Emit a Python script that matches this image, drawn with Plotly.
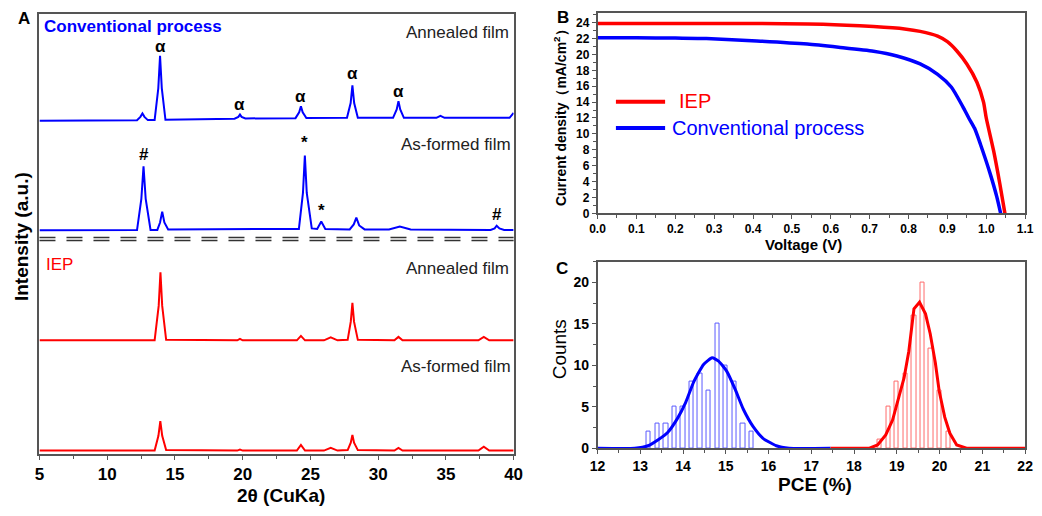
import plotly.graph_objects as go

W, H = 1042, 516
FONT = "Arial, Liberation Sans, sans-serif"
BLUE = "#0000ff"
RED = "#ff0000"
AXC = "#555555"

# ---------------- Panel A: XRD patterns (intensity in a.u.) ----------------
conv_ann_x = [5, 12.2, 12.45, 12.6, 12.75, 13.0, 13.5, 13.77, 13.9, 14.03, 14.3, 19.4, 19.68, 19.8,
              19.92, 20.2, 23.9, 24.17, 24.3, 24.43, 24.7, 27.7, 27.97, 28.1, 28.23, 28.5, 31.1,
              31.37, 31.5, 31.63, 31.9, 34.3, 34.6, 34.9, 39.7, 40]
conv_ann_y = [0, 0.5, 4, 7.5, 4, 0.7, 0.8, 33, 66, 33, 1, 2.2, 4, 6.3, 4, 2.4, 2.7, 8.7, 14.7, 8.7,
              2.8, 3, 18, 36, 18, 3, 3, 11.5, 20, 11.5, 3, 3, 5, 3, 3, 8]

conv_as_x = [5, 12.2, 12.52, 12.68, 12.84, 13.2, 13.7, 13.9, 14.06, 14.22, 14.5, 20, 24.15, 24.45,
             24.59, 24.73, 25.1, 25.5, 25.8, 26.1, 27.9, 28.2, 28.39, 28.6, 29.0, 30.8, 31.6, 32.4,
             38.3, 38.6, 38.75, 38.95, 39.3, 40]
conv_as_y = [0, 0.3, 32, 65, 32, 0.5, 0.5, 8, 19, 8, 1, 1, 1.5, 38, 76, 38, 2, 1.5, 9, 1.5, 1, 6,
             13, 5, 1, 0.8, 4, 0.8, 0.5, 2, 4.7, 2, 0.5, 0.5]

iep_ann_x = [5, 13.5, 13.8, 13.93, 14.06, 14.35, 19.6, 19.8, 20.0, 24.0, 24.3, 24.6, 26.0, 26.5,
             27.0, 27.75, 27.98, 28.1, 28.22, 28.5, 31.2, 31.5, 31.8, 37.4, 37.8, 38.2, 40]
iep_ann_y = [0, 0, 35, 69, 35, 0.5, 0, 1.5, 0, 0, 4.5, 0, 0, 3, 0, 0.5, 19, 38, 19, 0.5, 0, 3.5,
             0, 0, 3.5, 0, 0]

iep_as_x = [5, 13.5, 13.78, 13.92, 14.06, 14.35, 19.6, 19.8, 20.0, 24.0, 24.3, 24.6, 26.0, 26.5,
            27.0, 27.75, 27.98, 28.1, 28.22, 28.5, 31.2, 31.5, 31.8, 37.4, 37.8, 38.2, 40]
iep_as_y = [0, 0, 15, 30, 15, 0.5, 0, 1, 0, 0, 5.7, 0, 0, 2.7, 0, 0.5, 8, 16, 8, 0.5, 0, 2.7, 0,
            0, 4, 0, 0]

# ---------------- Panel B: J-V curves ----------------
jv_iep_v = [0, 0.37, 0.58, 0.71, 0.79, 0.83, 0.875, 0.90, 0.925, 0.95, 0.976, 0.993, 1.0, 1.019,
            1.035, 1.048]
jv_iep_j = [23.9, 23.9, 23.8, 23.5, 23.2, 22.9, 22.3, 21.6, 20.4, 18.8, 16.5, 14.0, 12.0, 7.85,
            3.7, 0]
jv_conv_v = [0, 0.1, 0.2, 0.28, 0.41, 0.54, 0.62, 0.71, 0.77, 0.83, 0.875, 0.91, 0.94, 0.955,
             0.97, 0.985, 1.01, 1.027, 1.037]
jv_conv_j = [22.1, 22.1, 22.05, 22.0, 21.7, 21.3, 20.9, 20.4, 19.8, 18.8, 17.5, 15.9, 13.4, 12.0,
             10.7, 8.7, 5.0, 2.1, 0]

# ---------------- Panel C: PCE histograms ----------------
conv_bins = [13.2, 13.4, 13.6, 13.8, 14.0, 14.2, 14.4, 14.6, 14.8, 15.0, 15.2, 15.4, 15.6]
conv_counts = [2, 3, 3, 5, 5, 8, 9, 7, 15, 10, 8, 3, 2]
iep_bins = [18.6, 18.8, 19.0, 19.2, 19.4, 19.6, 19.8, 20.0, 20.2]
iep_counts = [1, 5, 8, 9, 16, 20, 12, 7, 2]

conv_fit_x = [12, 12.87, 13.18, 13.41, 13.64, 13.87, 14.06, 14.25, 14.48, 14.68, 14.83, 15.02,
              15.22, 15.41, 15.64, 15.87, 16.18, 16.48, 17.45]
conv_fit_y = [0, 0, 0.3, 1.0, 1.9, 3.6, 5.5, 8.0, 10.1, 10.9, 10.5, 9.3, 7.1, 4.7, 2.6, 1.2, 0.3,
              0, 0]
iep_fit_x = [17.45, 18.36, 18.55, 18.74, 18.90, 19.05, 19.17, 19.28, 19.40, 19.53, 19.67, 19.78,
             19.90, 19.99, 20.12, 20.24, 20.40, 20.63, 22]
iep_fit_y = [0, 0, 0.4, 1.6, 3.4, 6.1, 8.5, 11.7, 16.8, 17.6, 16.2, 13.8, 10.3, 6.9, 3.75, 1.8,
             0.4, 0, 0]


def px(x):
    return x / W


def py(y):
    return 1 - y / H


fig = go.Figure()

# Panel A traces with vertical offsets (stacking)
A_BOTTOM = 461.5
stack = [
    (conv_ann_x, conv_ann_y, A_BOTTOM - 122.7, BLUE),
    (conv_as_x, conv_as_y, A_BOTTOM - 234.0, BLUE),
    (iep_ann_x, iep_ann_y, A_BOTTOM - 345.7, RED),
    (iep_as_x, iep_as_y, A_BOTTOM - 457.7, RED),
]
for xs, ys, off, col in stack:
    fig.add_trace(go.Scatter(x=xs, y=[v + off for v in ys], mode="lines",
                             line=dict(color=col, width=2), xaxis="x", yaxis="y",
                             showlegend=False, hoverinfo="skip"))

# Panel B traces
fig.add_trace(go.Scatter(x=jv_iep_v, y=jv_iep_j, mode="lines",
                         line=dict(color=RED, width=3.5, shape="spline", smoothing=0.6),
                         xaxis="x2", yaxis="y2", showlegend=False))
fig.add_trace(go.Scatter(x=jv_conv_v, y=jv_conv_j, mode="lines",
                         line=dict(color=BLUE, width=3.5, shape="spline", smoothing=0.6),
                         xaxis="x2", yaxis="y2", showlegend=False))

# Panel C traces
fig.add_trace(go.Bar(x=conv_bins, y=conv_counts, width=0.1, xaxis="x3", yaxis="y3",
                     marker=dict(color="rgba(255,255,255,0)", line=dict(color="#5a5aff", width=1)),
                     showlegend=False))
fig.add_trace(go.Bar(x=iep_bins, y=iep_counts, width=0.1, xaxis="x3", yaxis="y3",
                     marker=dict(color="rgba(255,255,255,0)", line=dict(color="#ff6a6a", width=1)),
                     showlegend=False))
fig.add_trace(go.Scatter(x=conv_fit_x, y=conv_fit_y, mode="lines",
                         line=dict(color=BLUE, width=3, shape="spline", smoothing=0.5),
                         xaxis="x3", yaxis="y3", showlegend=False))
fig.add_trace(go.Scatter(x=iep_fit_x, y=iep_fit_y, mode="lines",
                         line=dict(color=RED, width=3),
                         xaxis="x3", yaxis="y3", showlegend=False))

axis_common = dict(showline=True, mirror=True, linecolor=AXC, linewidth=1.5, showgrid=False,
                   zeroline=False, ticks="outside", tickcolor=AXC, ticklen=4, tickwidth=1.2)

fig.update_layout(
    width=W, height=H, autosize=False,
    margin=dict(l=0, r=0, t=0, b=0, pad=0),
    paper_bgcolor="white", plot_bgcolor="white",
    barmode="overlay", bargap=0,
    font=dict(family=FONT, color="black"),
    xaxis=dict(domain=[px(32), px(514)], range=[5, 40], anchor="y", tick0=5, dtick=5,
               tickfont=dict(size=17, weight="bold", family=FONT),
               minor=dict(dtick=2.5, ticklen=3, ticks="outside", tickcolor=AXC),
               **axis_common),
    yaxis=dict(domain=[py(A_BOTTOM), py(14)], range=[0, A_BOTTOM - 14], anchor="x",
               showline=True, mirror=True, linecolor=AXC, linewidth=1.5, showgrid=False,
               zeroline=False, showticklabels=False, ticks=""),
    xaxis2=dict(domain=[px(599.3), px(1034)], range=[0, 1.1], anchor="y2", tick0=0, dtick=0.1,
                tickformat=".1f", tickfont=dict(size=12, weight="bold", family=FONT),
                minor=dict(dtick=0.05, ticklen=3, ticks="outside", tickcolor=AXC),
                **axis_common),
    yaxis2=dict(domain=[py(216.7), py(13.3)], range=[0, 25.2], anchor="x2", tick0=0, dtick=2,
                tickfont=dict(size=12, weight="bold", family=FONT),
                minor=dict(dtick=1, ticklen=3, ticks="outside", tickcolor=AXC),
                **axis_common),
    xaxis3=dict(domain=[px(599.3), px(1034)], range=[12, 22], anchor="y3", tick0=12, dtick=1,
                tickfont=dict(size=14, weight="bold", family=FONT),
                minor=dict(dtick=0.5, ticklen=3, ticks="outside", tickcolor=AXC),
                **axis_common),
    yaxis3=dict(domain=[py(455.3), py(265.7)], range=[0, 22.5], anchor="x3", tick0=0, dtick=5,
                tickfont=dict(size=14, weight="bold", family=FONT),
                minor=dict(dtick=2.5, ticklen=3, ticks="outside", tickcolor=AXC),
                **axis_common),
)

shapes = []
# double dashed separator in panel A
for yy in (241.3, 244.3):
    shapes.append(dict(type="line", xref="x domain", yref="y", x0=0, x1=1,
                       y0=A_BOTTOM - yy, y1=A_BOTTOM - yy,
                       line=dict(color="#333333", width=1.6, dash="16px,11px")))
# legend samples in panel B
for yy, col in ((103.3, RED), (130.0, BLUE)):
    shapes.append(dict(type="line", xref="paper", yref="paper", x0=px(618), x1=px(668),
                       y0=py(yy), y1=py(yy), line=dict(color=col, width=4)))
fig.update_layout(shapes=shapes)

ann = []


def text(x, y, s, size, color="black", bold=False, xanchor="center", angle=0):
    ann.append(dict(x=px(x), y=py(y), xref="paper", yref="paper", text=s, showarrow=False,
                    xanchor=xanchor, yanchor="middle", textangle=angle,
                    font=dict(family=FONT, size=size, color=color,
                              weight="bold" if bold else "normal")))


# Panel letters
text(16, 19, "A", 17, bold=True)
text(564, 18, "B", 17, bold=True)
text(563, 273, "C", 17, bold=True)

# Panel A labels
text(35, 27, "Conventional process", 17, color=BLUE, bold=True, xanchor="left")
text(511, 33, "Annealed film", 17, color="#222222", xanchor="right")
text(513, 147, "As-formed film", 17, color="#222222", xanchor="right")
text(37, 269, "IEP", 17, color=RED, xanchor="left")
text(511, 273, "Annealed film", 17, color="#222222", xanchor="right")
text(513, 372, "As-formed film", 17, color="#222222", xanchor="right")
text(14, 240, "Intensity (a.u.)", 19, bold=True, angle=-90)
text(278, 503, "2θ (CuKa)", 19, bold=True)

# Peak markers in panel A (data coordinates)
markers = [(13.9, 47, "α"), (19.8, 106, "α"), (24.3, 98, "α"), (28.1, 75, "α"), (31.5, 93, "α"),
           (12.68, 157, "#"), (24.59, 145, "*"), (25.8, 214, "*"), (38.75, 218, "#")]
for mx, my, s in markers:
    ann.append(dict(x=mx, y=A_BOTTOM - my, xref="x", yref="y", text=s, showarrow=False,
                    xanchor="center", yanchor="middle",
                    font=dict(family=FONT, size=17, color="black", weight="bold")))

# Panel B labels
text(680, 103, "IEP", 20, color=RED, xanchor="left")
text(673, 130, "Conventional process", 20, color=BLUE, xanchor="left")
text(809, 248, "Voltage (V)", 15, bold=True)
text(561, 116, "Current density（mA/cm<sup>2</sup>）", 14, bold=True, angle=-90)

# Panel C labels
text(820, 492, "PCE (%)", 19, bold=True)
text(561, 355, "Counts", 19, angle=-90)

fig.update_layout(annotations=ann)

fig.write_html(
    "out.html",
    config={"responsive": False, "displayModeBar": False},
    post_script="document.body.style.margin='0';document.body.style.overflow='hidden';",
)
